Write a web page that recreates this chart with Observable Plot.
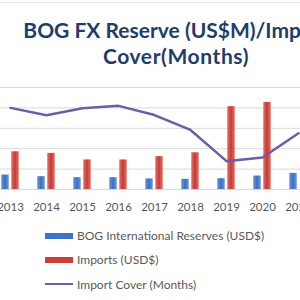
<!DOCTYPE html>
<html><head><meta charset="utf-8">
<script src="https://cdn.jsdelivr.net/npm/d3@7"></script>
<script src="https://cdn.jsdelivr.net/npm/@observablehq/plot@0.6"></script>
<style>
html,body{margin:0;padding:0;background:#fff;}
body{width:300px;height:300px;overflow:hidden;position:relative;font-family:Lato,"Open Sans",sans-serif;}
#border{position:absolute;left:0;top:2px;width:300px;height:1px;background:#e3e6e8;}
#title{position:absolute;left:0;top:17px;width:352px;text-align:center;font-weight:bold;font-size:21px;line-height:26px;color:#1f3d6b;white-space:nowrap;}
#title .l2{letter-spacing:0.6px;}
#chart{position:absolute;left:0;top:0;}
#legend{position:absolute;left:45px;top:223.5px;font-size:12px;color:#595959;}
.row{height:24.3px;display:flex;align-items:center;}
.sw{width:28px;margin-right:4px;}
</style></head>
<body>
<div id="border"></div>
<div id="chart"></div>
<div id="title">BOG FX Reserve (US$M)/Import<br><span class="l2">Cover(Months)</span></div>
<div id="legend"></div>
<script>
const years = ["2013","2014","2015","2016","2017","2018","2019","2020","2021"];
const reserves = [3550, 3150, 2900, 2900, 2600, 2500, 2650, 3300, 3950];
const imports = [9250, 8850, 7250, 7250, 8050, 9000, 20300, 21350, null];
const coverMonths = [4.0, 3.64, 3.98, 4.1, 3.65, 2.92, 1.39, 1.57, 2.76];
const seriesNames = ["BOG International Reserves (USD$)", "Imports (USD$)", "Import Cover (Months)"];
const colors = ["#3e74c6", "#cf3d37", "#6f5ba6"];
const edgeColors = ["#6d97d8", "#e2716b"];
const monthUnit = 5000; // secondary axis: 1 month = 5000 on primary scale

const rows = years.map((y, i) => ({year: y, reserves: reserves[i], imports: imports[i], cover: coverMonths[i]}));

const chart = Plot.plot({
  width: 300,
  height: 215,
  marginTop: 87,
  marginBottom: 26,
  marginLeft: 0,
  marginRight: 0,
  style: {fontFamily: "Lato, 'Open Sans', sans-serif", fontSize: "11px", color: "#595959", background: "transparent"},
  x: {type: "band", domain: years, range: [-10.75, 317.75], padding: 0, label: null},
  y: {domain: [0, 25000], axis: null},
  marks: [
    Plot.gridY([5000, 10000, 15000, 20000, 25000], {stroke: "#d9d9d9", strokeOpacity: 1, strokeWidth: 1}),
    Plot.barY(rows, {x: "year", y: "reserves", fill: "url(#gradBlue)", insetLeft: 9.25, insetRight: 19.25}),
    Plot.barY(rows.filter(d => d.imports != null), {x: "year", y: "imports", fill: "url(#gradRed)", insetLeft: 19.25, insetRight: 9.25}),
    Plot.ruleY([0], {stroke: "#d9d9d9"}),
    Plot.line(rows, {x: "year", y: d => d.cover * monthUnit, stroke: colors[2], strokeWidth: 2.5}),
    Plot.axisX({tickSize: 0, tickPadding: 13, fill: "#595959", fontSize: 11.5})
  ]
});

// horizontal gradients for bars (lighter edges)
const ns = "http://www.w3.org/2000/svg";
const defs = document.createElementNS(ns, "defs");
[["gradBlue", 0], ["gradRed", 1]].forEach(([id, k]) => {
  const g = document.createElementNS(ns, "linearGradient");
  g.setAttribute("id", id);
  g.setAttribute("x1", "0"); g.setAttribute("x2", "1"); g.setAttribute("y1", "0"); g.setAttribute("y2", "0");
  [[0, edgeColors[k]], [0.45, colors[k]], [0.55, colors[k]], [1, edgeColors[k]]].forEach(([o, c]) => {
    const s = document.createElementNS(ns, "stop");
    s.setAttribute("offset", o);
    s.setAttribute("stop-color", c);
    g.appendChild(s);
  });
  defs.appendChild(g);
});
chart.insertBefore(defs, chart.firstChild);
document.getElementById("chart").appendChild(chart);

const legend = document.getElementById("legend");
seriesNames.forEach((name, i) => {
  const row = document.createElement("div");
  row.className = "row";
  const sw = document.createElement("div");
  sw.className = "sw";
  sw.style.height = i < 2 ? "6px" : "2px";
  sw.style.background = colors[i];
  row.appendChild(sw);
  const t = document.createElement("span");
  t.textContent = name;
  row.appendChild(t);
  legend.appendChild(row);
});
</script>
</body></html>
